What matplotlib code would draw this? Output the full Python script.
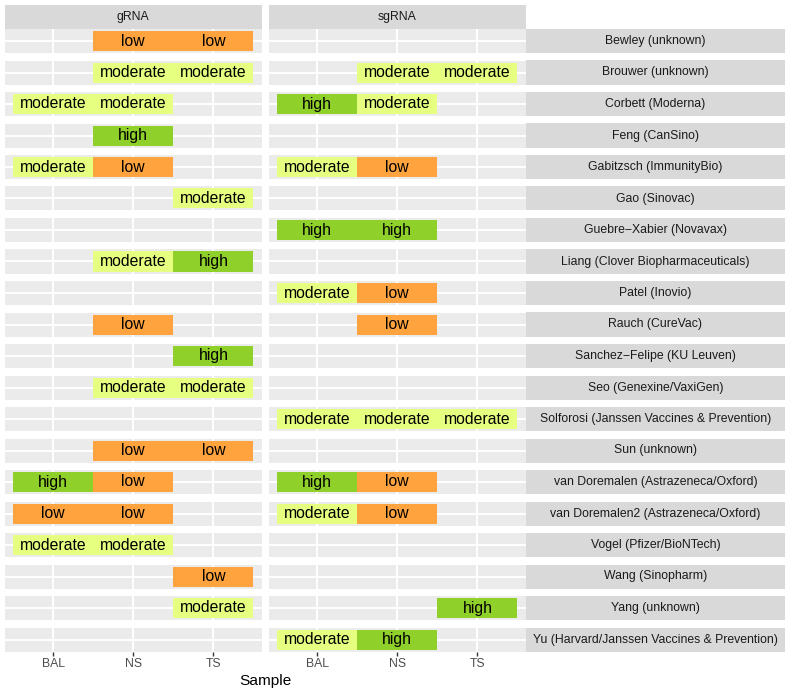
import matplotlib

matplotlib.use("Agg")
import matplotlib.pyplot as plt
from matplotlib.patches import Rectangle

# --- data ---
samples = ["BAL", "NS", "TS"]
assays = ["gRNA", "sgRNA"]
studies = [
    "Bewley (unknown)",
    "Brouwer (unknown)",
    "Corbett (Moderna)",
    "Feng (CanSino)",
    "Gabitzsch (ImmunityBio)",
    "Gao (Sinovac)",
    "Guebre\u2212Xabier (Novavax)",
    "Liang (Clover Biopharmaceuticals)",
    "Patel (Inovio)",
    "Rauch (CureVac)",
    "Sanchez\u2212Felipe (KU Leuven)",
    "Seo (Genexine/VaxiGen)",
    "Solforosi (Janssen Vaccines & Prevention)",
    "Sun (unknown)",
    "van Doremalen (Astrazeneca/Oxford)",
    "van Doremalen2 (Astrazeneca/Oxford)",
    "Vogel (Pfizer/BioNTech)",
    "Wang (Sinopharm)",
    "Yang (unknown)",
    "Yu (Harvard/Janssen Vaccines & Prevention)",
]
# protection level per sample (BAL, NS, TS); None = not measured
grna = [
    (None, "low", "low"),
    (None, "moderate", "moderate"),
    ("moderate", "moderate", None),
    (None, "high", None),
    ("moderate", "low", None),
    (None, None, "moderate"),
    (None, None, None),
    (None, "moderate", "high"),
    (None, None, None),
    (None, "low", None),
    (None, None, "high"),
    (None, "moderate", "moderate"),
    (None, None, None),
    (None, "low", "low"),
    ("high", "low", None),
    ("low", "low", None),
    ("moderate", "moderate", None),
    (None, None, "low"),
    (None, None, "moderate"),
    (None, None, None),
]
sgrna = [
    (None, None, None),
    (None, "moderate", "moderate"),
    ("high", "moderate", None),
    (None, None, None),
    ("moderate", "low", None),
    (None, None, None),
    ("high", "high", None),
    (None, None, None),
    ("moderate", "low", None),
    (None, "low", None),
    (None, None, None),
    (None, None, None),
    ("moderate", "moderate", "moderate"),
    (None, None, None),
    ("high", "low", None),
    ("moderate", "low", None),
    (None, None, None),
    (None, None, None),
    (None, None, "high"),
    ("moderate", "high", None),
]
level_colors = {"low": "#FFA33F", "moderate": "#E6FF80", "high": "#90D02A"}

# --- layout in pixels ---
W, H = 791, 694
col_left = [5, 269]
col_w = 256.5
row_top0, row_pitch, row_h = 29, 31.5, 24
strip_x0, strip_x1 = 526, 785
font = "Liberation Sans"

fig = plt.figure(figsize=(W / 100, H / 100), dpi=100)


def fx(px):
    return px / W


def fy(py):
    return 1 - py / H


# top strips
for j, name in enumerate(assays):
    fig.patches.append(Rectangle((fx(col_left[j]), fy(28.5)), col_w / W, 23.5 / H,
                                 transform=fig.transFigure, color="#D9D9D9", lw=0))
    fig.text(fx(col_left[j] + col_w / 2), fy(17), name, ha="center", va="center",
             fontsize=8.8, color="#1A1A1A", family=font)

for i, study in enumerate(studies):
    top = row_top0 + i * row_pitch
    for j, data in enumerate([grna, sgrna]):
        ax = fig.add_axes([fx(col_left[j]), fy(top + row_h), col_w / W, row_h / H])
        ax.set_facecolor("#EBEBEB")
        ax.set_xlim(0.4, 3.6)
        ax.set_ylim(0.4, 1.6)
        ax.set_xticks([1, 2, 3])
        ax.set_yticks([1])
        ax.grid(True, color="white", lw=1.4)
        ax.set_axisbelow(True)
        for s in ax.spines.values():
            s.set_visible(False)
        ax.tick_params(left=False, labelleft=False)
        for k, lvl in enumerate(data[i]):
            if lvl is None:
                continue
            ax.bar(k + 1, 1.0, bottom=0.5, width=1.0, color=level_colors[lvl], lw=0)
            ax.text(k + 1, 1.0, lvl, ha="center", va="center", fontsize=11.3,
                    color="black", family=font)
        if i == len(studies) - 1:
            ax.set_xticklabels(samples, fontsize=8.8, color="#4D4D4D", family=font)
            ax.tick_params(axis="x", length=2.7, width=1.0, color="#333333", pad=2.0)
        else:
            ax.tick_params(bottom=False, labelbottom=False)
    # right strip
    fig.patches.append(Rectangle((fx(strip_x0), fy(top + row_h)), (strip_x1 - strip_x0) / W,
                                 row_h / H, transform=fig.transFigure, color="#D9D9D9", lw=0))
    fig.text(fx((strip_x0 + strip_x1) / 2), fy(top + row_h / 2), study, ha="center",
             va="center", fontsize=8.8, color="#1A1A1A", family=font)

fig.text(fx((col_left[0] + col_left[1] + col_w) / 2), fy(681), "Sample", ha="center",
         va="center", fontsize=11.1, color="black", family=font)

fig.savefig("out.png", dpi=100)
